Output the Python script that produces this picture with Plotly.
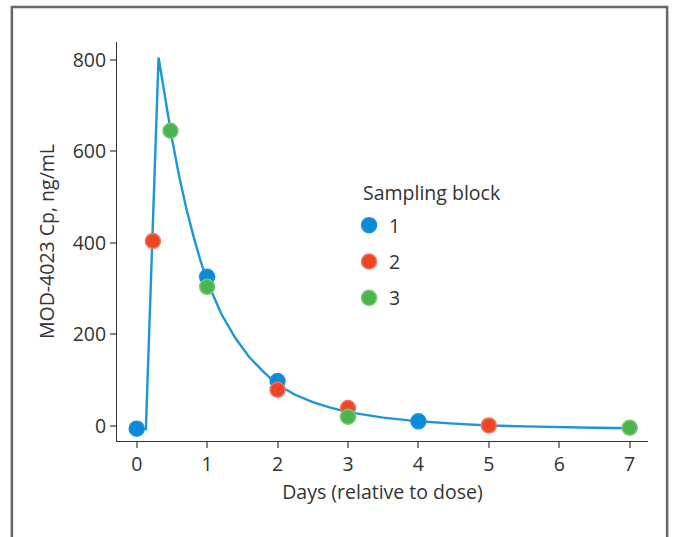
import plotly.graph_objects as go

# Observed concentrations by sampling block
block1_days = [0, 1, 2, 4]
block1_cp = [-6, 326, 98, 10]
block2_days = [0.23, 2, 3, 5]
block2_cp = [404, 79, 39, 1]
block3_days = [0.48, 1, 3, 7]
block3_cp = [645, 304, 20, -4]

# Model curve
curve_days = [0, 0.13, 0.31, 0.4, 0.5, 0.6, 0.7, 0.8, 0.9, 1.0, 1.2, 1.4, 1.6, 1.8, 2.0,
              2.25, 2.5, 2.75, 3.0, 3.5, 4.0, 4.5, 5.0, 5.5, 6.0, 6.5, 7.0]
curve_cp = [-6, -7, 805, 720, 628, 548, 478, 418, 364, 316, 245, 192, 150, 118, 90,
            68, 52, 40, 30, 18, 10, 5, 1, -1, -3, -4, -5]

x_ticks = [0, 1, 2, 3, 4, 5, 6, 7]
y_ticks = [0, 200, 400, 600, 800]

FONT = "Open Sans"
TXT = "#333333"
FS = 19.5

fig = go.Figure()
fig.add_trace(go.Scatter(x=curve_days, y=curve_cp, mode="lines",
                         line=dict(color="#1b97d9", width=2.4),
                         showlegend=False, hoverinfo="skip"))

for name, xs, ys, col, edge in [
    ("1", block1_days, block1_cp, "#0b8ad8", "#1a92dc"),
    ("2", block2_days, block2_cp, "#ef4426", "#f7735c"),
    ("3", block3_days, block3_cp, "#4cb44c", "#74c874"),
]:
    fig.add_trace(go.Scatter(x=xs, y=ys, mode="markers", name=name, legendgroup=name,
                             marker=dict(color=col, size=15, line=dict(color=edge, width=1.5))))

axis_common = dict(showline=True, linecolor="#333333", linewidth=1, ticks="outside",
                   ticklen=6, tickcolor="#888888", tickwidth=1.5, showgrid=False,
                   zeroline=False, tickfont=dict(family=FONT, size=FS, color=TXT))

fig.update_xaxes(range=[-0.28, 7.26], tickvals=x_ticks,
                 title=dict(text="Days (relative to dose)", font=dict(family=FONT, size=FS, color=TXT),
                            standoff=8),
                 **axis_common)
fig.update_yaxes(range=[-33, 839], tickvals=y_ticks,
                 title=dict(text="MOD-4023 Cp, ng/mL", font=dict(family=FONT, size=FS, color=TXT),
                            standoff=12),
                 **axis_common)

fig.add_shape(type="path", xref="paper", yref="paper",
              path="M -0.198 -0.3 L -0.198 1.088 L 1.036 1.088 L 1.036 -0.3",
              line=dict(color="#666666", width=2.5))

fig.add_annotation(text="Sampling block", xref="paper", yref="paper",
                   x=0.4595, y=0.624, xanchor="left", yanchor="middle", showarrow=False,
                   font=dict(family=FONT, size=FS, color=TXT))

fig.update_layout(
    width=680, height=537,
    margin=dict(l=117, r=32, t=42, b=96),
    paper_bgcolor="white", plot_bgcolor="white",
    font=dict(family=FONT, size=FS, color=TXT),
    legend=dict(x=0.437, y=0.589, xanchor="left", yanchor="top",
                font=dict(family=FONT, size=FS, color=TXT),
                tracegroupgap=8, bgcolor="rgba(0,0,0,0)"),
)

fig.write_html("out.html")
